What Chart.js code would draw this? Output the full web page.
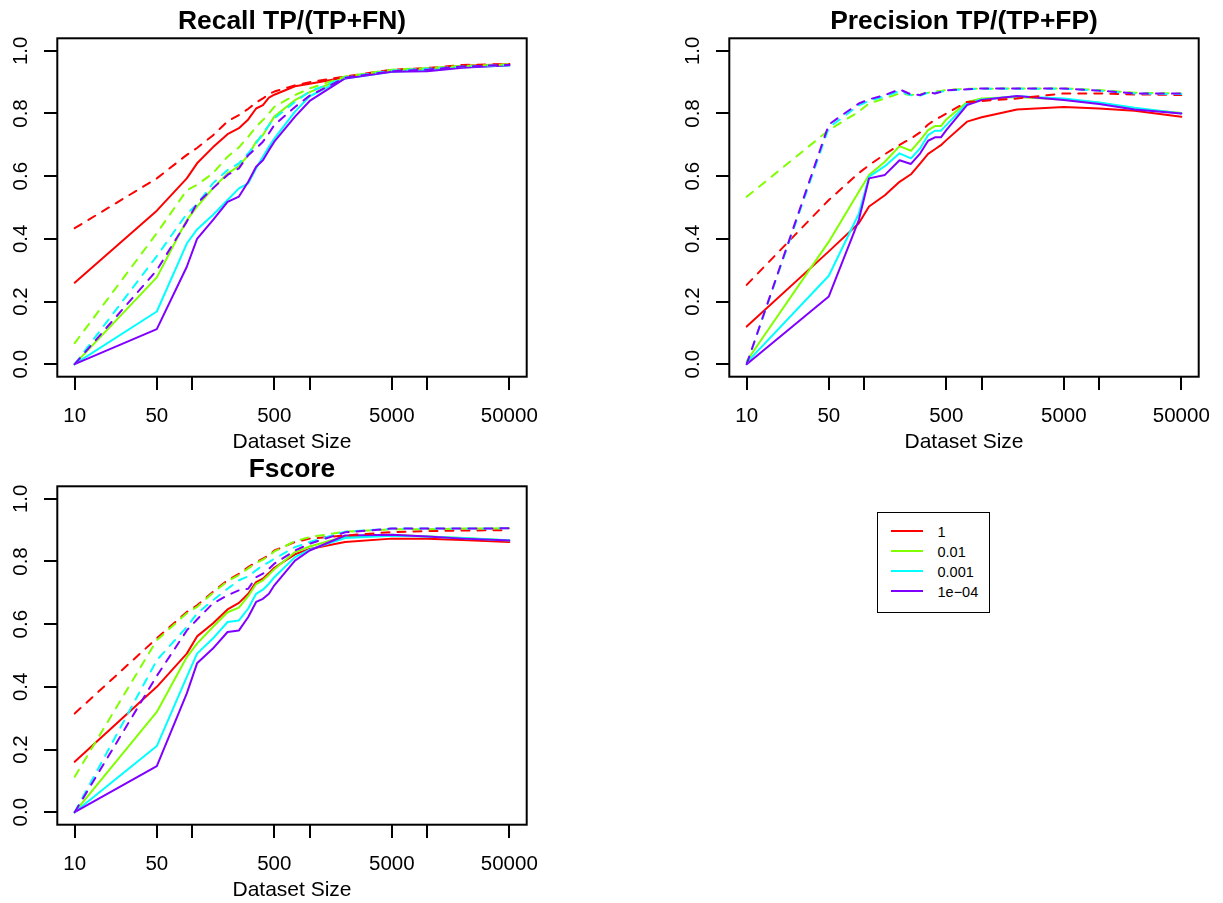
<!DOCTYPE html>
<html>
<head>
<meta charset="utf-8">
<script src="https://cdn.jsdelivr.net/npm/chart.js@4.4.1/dist/chart.umd.min.js"></script>
<style>
  body { margin: 0; background: #fff; width: 1223px; height: 903px; position: relative; overflow: hidden; font-family: "Liberation Sans", Arial, sans-serif; }
  canvas { position: absolute; }
  #legend { position: absolute; left: 877px; top: 512px; width: 113px; height: 101px; box-sizing: border-box; border: 1.5px solid #000; }
  .lg-line { position: absolute; height: 2px; width: 32px; }
  .lg-text { position: absolute; font-size: 14.5px; line-height: 14.5px; color: #000; white-space: nowrap; }
</style>
</head>
<body>
<canvas id="recall" width="611" height="462" style="left:0;top:0"></canvas>
<canvas id="precision" width="611" height="462" style="left:672px;top:0"></canvas>
<canvas id="fscore" width="611" height="462" style="left:0;top:448px"></canvas>
<div id="legend"></div>
<script>
  // *****************Data*****************
  const SIZES = [10, 50, 90, 110, 150, 200, 250, 300, 350, 400, 450, 500, 750, 1000, 2000, 5000, 10000, 20000, 50000];
  const THRESHOLDS = ["1", "0.01", "0.001", "1e\u221204"];
  const X_TICKS = [10, 50, 100, 500, 1000, 5000, 10000, 50000];
  const X_LABELS = ["10", "50", "", "500", "", "5000", "", "50000"];
  const Y_TICKS = [0, 0.2, 0.4, 0.6, 0.8, 1.0];
  const Y_LABELS = ["0.0", "0.2", "0.4", "0.6", "0.8", "1.0"];
  const X_TITLE = "Dataset Size";

  // rows: 1, 0.01, 0.001, 1e-04
  const recallSolid = [
    [0.26, 0.49, 0.593, 0.641, 0.692, 0.734, 0.753, 0.781, 0.816, 0.827, 0.851, 0.86, 0.887, 0.895, 0.915, 0.936, 0.942, 0.952, 0.957],
    [0.0, 0.277, 0.46, 0.503, 0.561, 0.609, 0.632, 0.667, 0.71, 0.731, 0.763, 0.79, 0.843, 0.868, 0.915, 0.935, 0.94, 0.95, 0.955],
    [0.0, 0.168, 0.385, 0.43, 0.476, 0.524, 0.561, 0.577, 0.625, 0.662, 0.694, 0.72, 0.806, 0.855, 0.912, 0.933, 0.938, 0.948, 0.953],
    [0.0, 0.112, 0.311, 0.40, 0.46, 0.518, 0.535, 0.582, 0.63, 0.651, 0.683, 0.71, 0.79, 0.84, 0.912, 0.933, 0.935, 0.946, 0.954],
  ];
  const recallDashed = [
    [0.434, 0.593, 0.668, 0.69, 0.73, 0.775, 0.795, 0.815, 0.835, 0.848, 0.862, 0.87, 0.89, 0.9, 0.918, 0.94, 0.945, 0.955, 0.958],
    [0.067, 0.418, 0.555, 0.572, 0.609, 0.662, 0.692, 0.726, 0.758, 0.779, 0.80, 0.821, 0.859, 0.88, 0.918, 0.94, 0.945, 0.952, 0.957],
    [0.0, 0.345, 0.48, 0.51, 0.577, 0.62, 0.641, 0.673, 0.705, 0.737, 0.763, 0.784, 0.837, 0.87, 0.915, 0.937, 0.943, 0.95, 0.955],
    [0.0, 0.30, 0.455, 0.513, 0.561, 0.604, 0.625, 0.667, 0.689, 0.71, 0.737, 0.763, 0.821, 0.857, 0.914, 0.935, 0.94, 0.95, 0.955],
  ];
  const precisionSolid = [
    [0.12, 0.36, 0.45, 0.503, 0.539, 0.582, 0.606, 0.641, 0.671, 0.686, 0.699, 0.715, 0.774, 0.788, 0.813, 0.821, 0.816, 0.809, 0.79],
    [0.01, 0.391, 0.55, 0.604, 0.646, 0.696, 0.681, 0.715, 0.747, 0.76, 0.76, 0.781, 0.837, 0.848, 0.853, 0.845, 0.834, 0.816, 0.802],
    [0.005, 0.282, 0.48, 0.598, 0.632, 0.673, 0.657, 0.689, 0.731, 0.745, 0.745, 0.763, 0.832, 0.845, 0.855, 0.848, 0.835, 0.818, 0.80],
    [0.0, 0.216, 0.46, 0.593, 0.604, 0.651, 0.639, 0.673, 0.713, 0.724, 0.724, 0.747, 0.827, 0.843, 0.856, 0.843, 0.83, 0.813, 0.80],
  ];
  const precisionDashed = [
    [0.253, 0.524, 0.61, 0.635, 0.67, 0.70, 0.72, 0.74, 0.765, 0.78, 0.79, 0.80, 0.837, 0.84, 0.848, 0.864, 0.864, 0.861, 0.859],
    [0.534, 0.747, 0.806, 0.832, 0.848, 0.864, 0.859, 0.862, 0.866, 0.871, 0.872, 0.875, 0.879, 0.879, 0.88, 0.88, 0.875, 0.866, 0.864],
    [0.0, 0.755, 0.826, 0.84, 0.855, 0.872, 0.858, 0.857, 0.866, 0.866, 0.869, 0.873, 0.877, 0.879, 0.879, 0.879, 0.873, 0.864, 0.862],
    [0.0, 0.765, 0.832, 0.845, 0.859, 0.877, 0.861, 0.859, 0.869, 0.864, 0.869, 0.874, 0.877, 0.88, 0.88, 0.88, 0.873, 0.864, 0.864],
  ];
  const fscoreSolid = [
    [0.161, 0.40, 0.506, 0.561, 0.602, 0.647, 0.668, 0.697, 0.734, 0.745, 0.763, 0.78, 0.823, 0.84, 0.862, 0.873, 0.873, 0.869, 0.862],
    [0.0, 0.32, 0.495, 0.538, 0.591, 0.638, 0.653, 0.69, 0.728, 0.74, 0.758, 0.775, 0.83, 0.848, 0.88, 0.885, 0.88, 0.875, 0.867],
    [0.0, 0.211, 0.432, 0.506, 0.554, 0.607, 0.612, 0.65, 0.697, 0.71, 0.729, 0.75, 0.814, 0.838, 0.875, 0.882, 0.88, 0.875, 0.868],
    [0.0, 0.147, 0.379, 0.475, 0.522, 0.575, 0.58, 0.623, 0.671, 0.681, 0.697, 0.724, 0.803, 0.835, 0.883, 0.885, 0.88, 0.873, 0.867],
  ];
  const fscoreDashed = [
    [0.315, 0.555, 0.639, 0.66, 0.703, 0.74, 0.761, 0.782, 0.798, 0.809, 0.82, 0.835, 0.862, 0.873, 0.883, 0.894, 0.897, 0.899, 0.90],
    [0.113, 0.549, 0.635, 0.655, 0.70, 0.737, 0.757, 0.778, 0.795, 0.806, 0.818, 0.832, 0.865, 0.878, 0.895, 0.903, 0.903, 0.905, 0.906],
    [0.0, 0.485, 0.591, 0.634, 0.676, 0.713, 0.74, 0.753, 0.772, 0.788, 0.798, 0.809, 0.846, 0.862, 0.895, 0.905, 0.905, 0.905, 0.906],
    [0.0, 0.435, 0.58, 0.615, 0.666, 0.692, 0.708, 0.713, 0.75, 0.761, 0.777, 0.793, 0.835, 0.857, 0.893, 0.905, 0.905, 0.905, 0.906],
  ];

  const COLORS = ["#FF0000", "#80FF00", "#00FFFF", "#8000FF"];
  const FONT = "'Liberation Sans', Arial, sans-serif";

  // *****************R style frame, titles, rotated y labels*****************
  const rFrame = {
    id: "rFrame",
    afterDraw(chart, args, opts) {
      const { ctx, chartArea: a } = chart;
      const y = chart.scales.y;
      const cx = (a.left + a.right) / 2;
      ctx.save();
      ctx.strokeStyle = "#000";
      ctx.lineWidth = 2;
      ctx.strokeRect(a.left, a.top, a.right - a.left, a.bottom - a.top);
      ctx.fillStyle = "#000";
      ctx.textAlign = "center";
      ctx.textBaseline = "alphabetic";
      ctx.font = `bold 26.4px ${FONT}`;
      ctx.fillText(opts.title, cx, a.top - 9);
      ctx.font = `21px ${FONT}`;
      ctx.fillText(X_TITLE, cx, a.bottom + 71.7);
      ctx.font = `20.5px ${FONT}`;
      Y_TICKS.forEach((v, i) => {
        ctx.save();
        ctx.translate(a.left - 30.6, y.getPixelForValue(v));
        ctx.rotate(-Math.PI / 2);
        ctx.fillText(Y_LABELS[i], 0, 0);
        ctx.restore();
      });
      ctx.restore();
    },
  };

  function makeChart(id, title, solid, dashed) {
    const datasets = [];
    const groups = [[solid, []], [dashed, [8, 8]]];
    groups.forEach(([rows, dash]) => {
      rows.forEach((vals, k) => {
        datasets.push({
          label: THRESHOLDS[k],
          data: SIZES.map((x, i) => ({ x: x, y: vals[i] })),
          borderColor: COLORS[k],
          borderWidth: 2,
          borderDash: dash,
          borderCapStyle: "round",
          borderJoinStyle: "round",
          pointRadius: 0,
          tension: 0,
          fill: false,
        });
      });
    });
    datasets.forEach((d, i) => (d.order = datasets.length - i));

    const tickFont = { family: FONT, size: 20.5 };
    const config = {
      type: "line",
      data: { datasets: datasets },
      plugins: [rFrame],
      options: {
        responsive: false,
        animation: false,
        devicePixelRatio: 1,
        events: [],
        layout: { padding: { left: 0, top: 38.3, right: 84.3, bottom: 0 } },
        plugins: {
          legend: { display: false },
          tooltip: { enabled: false },
          rFrame: { title: title },
        },
        scales: {
          x: {
            type: "logarithmic",
            bounds: "data",
            min: 7.113,
            max: 70302,
            afterBuildTicks: (s) => { s.ticks = X_TICKS.map((v) => ({ value: v })); },
            afterFit: (s) => { s.height = 85.3; },
            border: { display: false },
            grid: { drawOnChartArea: false, drawTicks: true, tickLength: 13.3, color: "#000", lineWidth: 2 },
            ticks: {
              autoSkip: false, maxRotation: 0, minRotation: 0, padding: 14,
              color: "#000", font: tickFont,
              callback: (v, i) => X_LABELS[i],
            },
          },
          y: {
            bounds: "data",
            min: -0.04,
            max: 1.04,
            afterBuildTicks: (s) => { s.ticks = Y_TICKS.map((v) => ({ value: v })); },
            afterFit: (s) => { s.width = 57.3; },
            border: { display: false },
            grid: { drawOnChartArea: false, drawTicks: true, tickLength: 13.3, color: "#000", lineWidth: 2 },
            ticks: { display: false },
          },
        },
      },
    };
    return new Chart(document.getElementById(id), config);
  }

  makeChart("recall", "Recall TP/(TP+FN)", recallSolid, recallDashed);
  makeChart("precision", "Precision TP/(TP+FP)", precisionSolid, precisionDashed);
  makeChart("fscore", "Fscore", fscoreSolid, fscoreDashed);

  // *****************Legend*****************
  const legend = document.getElementById("legend");
  THRESHOLDS.forEach((t, k) => {
    const line = document.createElement("div");
    line.className = "lg-line";
    line.style.left = "13px";
    line.style.top = 19 + 20 * k - 1 - 1.5 + "px";
    line.style.background = COLORS[k];
    legend.appendChild(line);
    const txt = document.createElement("div");
    txt.className = "lg-text";
    txt.style.left = "59.5px";
    txt.style.top = 13 + 20 * k - 1.5 + "px";
    txt.textContent = t;
    legend.appendChild(txt);
  });
</script>
</body>
</html>
